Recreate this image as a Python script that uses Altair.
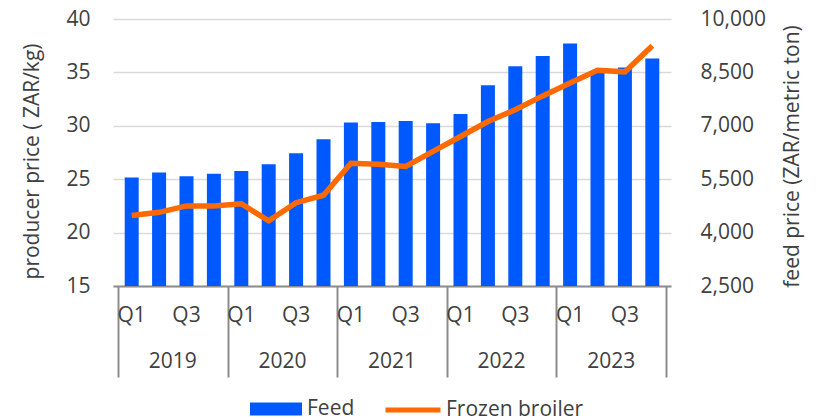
import altair as alt
import pandas as pd

# Quarterly series, 2019-2023
years = ["2019", "2020", "2021", "2022", "2023"]
quarters = ["Q1", "Q2", "Q3", "Q4"]
feed_price = [5545, 5685, 5580, 5655, 5730, 5920, 6230, 6620, 7090, 7105,
              7135, 7070, 7330, 8140, 8670, 8960, 9310, 8480, 8635, 8890]
broiler_price = [21.6, 21.9, 22.5, 22.5, 22.7, 21.1, 22.8, 23.5, 26.5, 26.4,
                 26.2, 27.6, 29.0, 30.4, 31.5, 32.8, 34.0, 35.2, 35.05, 37.5]
shown_quarters = ["Q1", "Q3"]

left_ticks = [15, 20, 25, 30, 35, 40]
right_ticks = [2500, 4000, 5500, 7000, 8500, 10000]

BLUE = "#0059ff"
ORANGE = "#ff6a00"
TEXT = "#404040"
AXIS_GREY = "#8c8c8c"
FONT = "Open Sans"
FS = 21

rows = []
for yi, yr in enumerate(years):
    for qi, q in enumerate(quarters):
        k = yi * 4 + qi
        rows.append({"i": k, "year": yr, "quarter": q,
                     "feed": feed_price[k], "broiler": broiler_price[k],
                     "s_feed": "Feed", "s_broiler": "Frozen broiler"})
df = pd.DataFrame(rows)
year_df = pd.DataFrame({"year": years, "k": list(range(len(years)))})

x_scale = alt.Scale(domain=[0, len(feed_price)], nice=False, zero=False)
x_axis = alt.Axis(values=[0, 4, 8, 12, 16, 20], labels=False, grid=False,
                  ticks=True, tickSize=91, tickColor=AXIS_GREY, tickWidth=2,
                  domain=True, domainColor=AXIS_GREY, domainWidth=2)

base = alt.Chart(df).transform_calculate(pos="datum.i + 0.5")

bars = base.mark_bar(size=14, clip=True).encode(
    x=alt.X("pos:Q", scale=x_scale, axis=x_axis, title=None),
    y=alt.Y("feed:Q",
            scale=alt.Scale(domain=[2500, 10000], nice=False, zero=False),
            axis=alt.Axis(orient="right", values=right_ticks,
                          labelExpr="format(datum.value, ',')",
                          grid=False, domain=False, ticks=False, tickSize=0,
                          labelPadding=29, labelFontSize=FS, labelColor=TEXT,
                          labelFont=FONT, titleFont=FONT, titleFontSize=21,
                          titleFontWeight="normal", titleColor=TEXT,
                          titleAngle=270, titleX=121, titleY=137,
                          titleAlign="center", titleBaseline="middle"),
            title="feed price (ZAR/metric ton)"),
    y2=alt.datum(2500),
    color=alt.Color("s_feed:N",
                    scale=alt.Scale(domain=["Feed"], range=[BLUE]),
                    legend=alt.Legend(orient="none", legendX=137, legendY=364,
                                      title=None, padding=0,
                                      symbolType="M-1,-0.25H1V0.25H-1Z",
                                      symbolSize=2704, symbolStrokeWidth=0,
                                      labelFontSize=FS, labelFont=FONT,
                                      labelColor=TEXT, labelOffset=5)),
)

line = base.mark_line(strokeWidth=5.5, strokeJoin="miter").encode(
    x=alt.X("pos:Q", scale=x_scale, axis=x_axis, title=None),
    y=alt.Y("broiler:Q",
            scale=alt.Scale(domain=[15, 40], nice=False, zero=False),
            axis=alt.Axis(orient="left", values=left_ticks, grid=True,
                          gridColor="#d9d9d9", gridWidth=1.7, domain=False,
                          ticks=False, tickSize=0, labelPadding=23,
                          labelFontSize=FS, labelColor=TEXT, labelFont=FONT,
                          titleFont=FONT, titleFontSize=21,
                          titleFontWeight="normal", titleColor=TEXT,
                          titleAngle=270, titleX=-81, titleY=142,
                          titleAlign="center", titleBaseline="middle"),
            title="producer price ( ZAR/kg)"),
    stroke=alt.Stroke("s_broiler:N",
                      scale=alt.Scale(domain=["Frozen broiler"], range=[ORANGE]),
                      legend=alt.Legend(orient="none", legendX=270, legendY=361,
                                        title=None, padding=0,
                                        symbolType="stroke", symbolSize=3025,
                                        symbolStrokeWidth=5,
                                        labelFontSize=FS, labelFont=FONT,
                                        labelColor=TEXT, labelOffset=3)),
)

quarter_labels = base.transform_filter(
    alt.FieldOneOfPredicate(field="quarter", oneOf=shown_quarters)
).mark_text(fontSize=FS, font=FONT, color=TEXT, baseline="middle").encode(
    x=alt.X("pos:Q", scale=x_scale, axis=x_axis, title=None),
    y=alt.value(297),
    text="quarter:N",
)

year_labels = alt.Chart(year_df).transform_calculate(
    pos="datum.k * 4 + 2"
).mark_text(fontSize=FS, font=FONT, color=TEXT, baseline="middle").encode(
    x=alt.X("pos:Q", scale=x_scale, axis=x_axis, title=None),
    y=alt.value(343),
    text="year:N",
)

chart = alt.layer(bars, line, quarter_labels, year_labels).resolve_scale(
    y="independent"
).properties(
    width=558, height=267,
    autosize=alt.AutoSizeParams(type="none"),
    padding={"left": 113, "top": 19, "right": 146, "bottom": 133},
    background="white",
).configure_view(strokeWidth=0)

chart.save("out.html", embed_options={"renderer": "svg", "actions": False})
